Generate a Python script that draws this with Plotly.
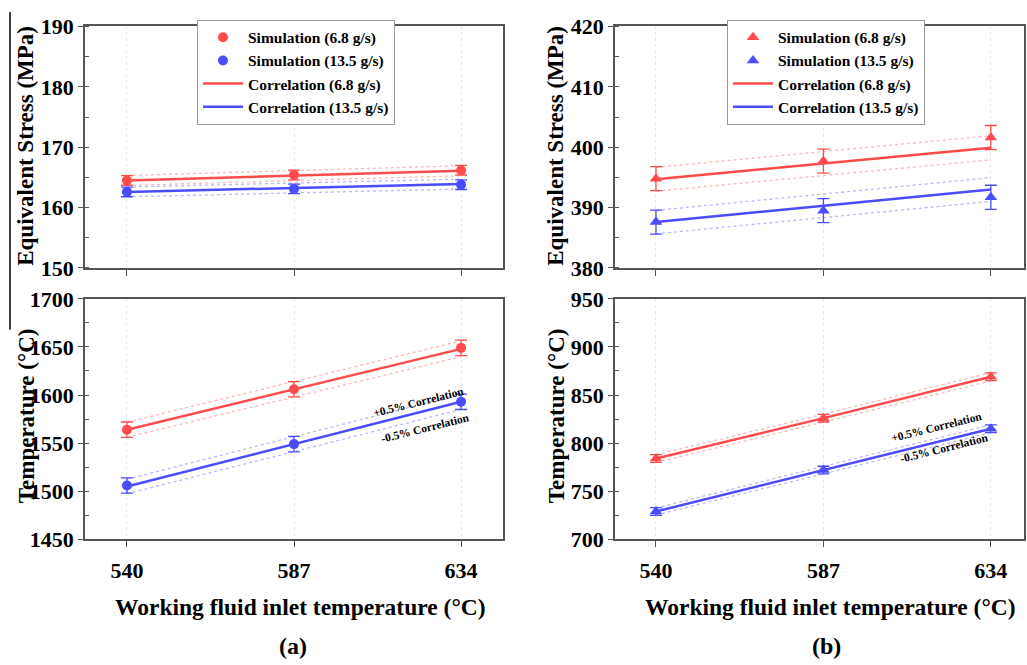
import plotly.graph_objects as go

X = [540, 587, 634]
X_TICKS = [540, 587, 634]

# (a) equivalent stress (MPa)
STRESS_A_SIM_68 = [164.5, 165.4, 166.2]
STRESS_A_SIM_135 = [162.6, 163.1, 163.8]
STRESS_A_COR_68 = [164.5, 165.3, 166.1]
STRESS_A_COR_135 = [162.6, 163.25, 163.9]
STRESS_A_ERR = [0.8, 0.8, 0.8]

# (a) temperature (°C)
TEMP_A_SIM_68 = [1564, 1606, 1649]
TEMP_A_SIM_135 = [1506, 1549, 1593]
TEMP_A_COR_68 = [1564, 1606, 1648]
TEMP_A_COR_135 = [1505, 1549, 1593]
TEMP_A_ERR = [8, 8, 8]

# (b) equivalent stress (MPa)
STRESS_B_SIM_68 = [394.8, 397.7, 401.6]
STRESS_B_SIM_135 = [387.6, 389.5, 391.7]
STRESS_B_COR_68 = [394.7, 397.3, 399.9]
STRESS_B_COR_135 = [387.6, 390.3, 393.0]
STRESS_B_ERR = [2.0, 2.0, 2.0]

# (b) temperature (°C)
TEMP_B_SIM_68 = [784, 826, 869]
TEMP_B_SIM_135 = [729, 772, 815]
TEMP_B_COR_68 = [784, 826, 869]
TEMP_B_COR_135 = [729, 772, 815]
TEMP_B_ERR = [4, 4, 4]

BAND_PCT = 0.5  # ±0.5 % correlation band

RED = "rgb(255,75,75)"
BLUE = "rgb(75,75,255)"
RED_L = "rgba(255,75,75,0.4)"
BLUE_L = "rgba(75,75,255,0.4)"
FONT = "Liberation Serif, Times New Roman, serif"

fig = go.Figure()

panels = [
    ("x", "y", (STRESS_A_SIM_68, STRESS_A_SIM_135), (STRESS_A_COR_68, STRESS_A_COR_135), STRESS_A_ERR, "circle", "legend", True),
    ("x2", "y2", (TEMP_A_SIM_68, TEMP_A_SIM_135), (TEMP_A_COR_68, TEMP_A_COR_135), TEMP_A_ERR, "circle", "legend", False),
    ("x3", "y3", (STRESS_B_SIM_68, STRESS_B_SIM_135), (STRESS_B_COR_68, STRESS_B_COR_135), STRESS_B_ERR, "triangle-up", "legend2", True),
    ("x4", "y4", (TEMP_B_SIM_68, TEMP_B_SIM_135), (TEMP_B_COR_68, TEMP_B_COR_135), TEMP_B_ERR, "triangle-up", "legend2", False),
]

for xa, ya, sims, cors, err, sym, leg, showleg in panels:
    for cor, cl in zip(cors, (RED_L, BLUE_L)):
        for sgn in (1, -1):
            fig.add_trace(go.Scatter(
                x=X, y=[v * (1 + sgn * BAND_PCT / 100) for v in cor],
                mode="lines", line=dict(color=cl, width=1.3, dash="dot"),
                xaxis=xa, yaxis=ya, showlegend=False, hoverinfo="skip"))
    labels = ["6.8 g/s", "13.5 g/s"]
    for sim, c, lab in zip(sims, (RED, BLUE), labels):
        fig.add_trace(go.Scatter(
            x=X, y=sim, mode="markers", name=f"Simulation ({lab})",
            marker=dict(color=c, size=10 if sym == "circle" else 11, symbol=sym),
            error_y=dict(type="data", array=err, visible=True, color=c, thickness=1.3, width=6),
            xaxis=xa, yaxis=ya, legend=leg, showlegend=showleg))
    for cor, c, lab in zip(cors, (RED, BLUE), labels):
        fig.add_trace(go.Scatter(
            x=X, y=cor, mode="lines", name=f"Correlation ({lab})",
            line=dict(color=c, width=2.5),
            xaxis=xa, yaxis=ya, legend=leg, showlegend=showleg))

W, H = 1027, 665
def px_x(p):
    return p / W
def px_y(p):
    return 1 - p / H

left_dom = [px_x(85), px_x(503)]
right_dom = [px_x(615), px_x(1024)]
top_dom = [px_y(266), px_y(15)]
bot_dom = [px_y(548), px_y(298)]

axis_common = dict(showline=True, linecolor="#555", linewidth=1.5, mirror=True,
                   tickfont=dict(family=FONT, size=22, color="black", weight="bold"),
                   zeroline=False)

def xaxis(dom, rng, show_labels, anchor):
    return dict(axis_common, domain=dom, range=rng, anchor=anchor,
                tickvals=X_TICKS, showticklabels=show_labels,
                ticks="outside", ticklen=6, tickcolor="#555", ticklabelstandoff=4,
                showgrid=True, gridcolor="rgba(205,205,205,0.45)", griddash="dot", gridwidth=1)

def yaxis(dom, rng, dtick, anchor):
    return dict(axis_common, domain=dom, range=rng, anchor=anchor, dtick=dtick,
                ticks="outside", ticklen=5, tickcolor="#555", showgrid=False,
                minor=dict(ticks="inside", ticklen=4, dtick=dtick / 2, tickcolor="#555", showgrid=False))

leg_common = dict(xanchor="left", yanchor="top",
                  bordercolor="#999", borderwidth=1, bgcolor="white",
                  font=dict(family=FONT, size=15.5, color="black", weight="bold"),
                  tracegroupgap=0, itemwidth=40)

fig.update_layout(
    width=W, height=H, margin=dict(l=0, r=0, t=0, b=0),
    paper_bgcolor="white", plot_bgcolor="white",
    font=dict(family=FONT, color="black", weight="bold"),
    xaxis=xaxis(left_dom, [528.2, 645.8], False, "y"),
    yaxis=yaxis(top_dom, [150, 190], 10, "x"),
    xaxis2=xaxis(left_dom, [528.2, 645.8], True, "y2"),
    yaxis2=yaxis(bot_dom, [1450, 1700], 50, "x2"),
    xaxis3=xaxis(right_dom, [528.5, 643.3], False, "y3"),
    yaxis3=yaxis(top_dom, [380, 420], 10, "x3"),
    xaxis4=xaxis(right_dom, [528.5, 643.3], True, "y4"),
    yaxis4=yaxis(bot_dom, [700, 950], 50, "x4"),
    legend=dict(leg_common, x=px_x(197), y=px_y(8)),
    legend2=dict(leg_common, x=px_x(727), y=px_y(8)),
)

ann_font = dict(family=FONT, color="black", weight="bold")
def ann(text, x, y, size, angle=0):
    fig.add_annotation(text=text, x=px_x(x), y=px_y(y), xref="paper", yref="paper",
                       showarrow=False, textangle=angle, xanchor="center", yanchor="middle",
                       font=dict(ann_font, size=size))

ann("Equivalent Stress (MPa)", 26, 139, 23, -90)
ann("Temperature (°C)", 26, 420, 23, -90)
ann("Equivalent Stress (MPa)", 556, 139, 23, -90)
ann("Temperature (°C)", 556, 420, 23, -90)
ann("Working fluid inlet temperature (°C)", 300, 618, 23.5)
ann("Working fluid inlet temperature (°C)", 830, 618, 23.5)
ann("(a)", 293, 659, 24)
ann("(b)", 826, 659, 24)
ann("+0.5% Correlation", 418, 405, 11.5, -14)
ann("-0.5% Correlation", 425, 432, 11.5, -14)
ann("+0.5% Correlation", 936, 431, 11.5, -14)
ann("-0.5% Correlation", 944, 453, 11.5, -14)

fig.add_shape(type="line", xref="paper", yref="paper", x0=px_x(10), x1=px_x(10),
              y0=px_y(0), y1=px_y(330), line=dict(color="black", width=1.5))

fig.write_html("out.html")
